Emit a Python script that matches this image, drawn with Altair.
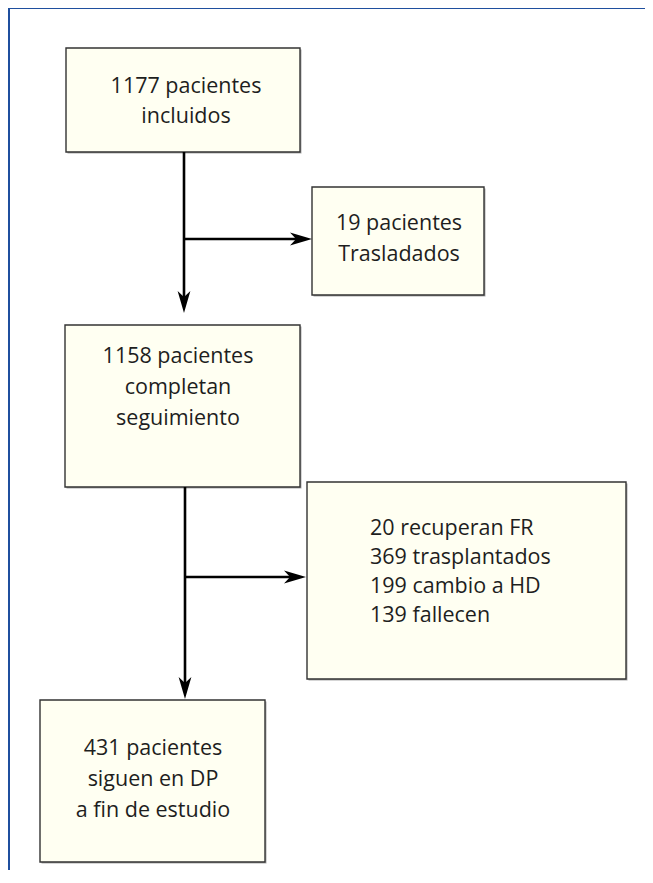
import altair as alt
import pandas as pd

# ---- content ----
box_lines = [
    ["1177 pacientes", "incluidos"],
    ["19 pacientes", "Trasladados"],
    ["1158 pacientes", "completan", "seguimiento"],
    ["20 recuperan FR", "369 trasplantados", "199 cambio a HD", "139 fallecen"],
    ["431 pacientes", "siguen en DP", "a fin de estudio"],
]
box_align = ["center", "center", "center", "left", "center"]

# ---- layout (page pixel coordinates) ----
box_left = [66, 312, 65, 307, 40]
box_right = [300, 484, 300, 626, 265]
box_top = [48, 187, 325, 482, 700]
box_bottom = [152, 295, 487, 679, 862]
text_x = [186, 399, 178, 370, 153]
text_first_baseline = [93, 230, 363, 535, 755]
line_step = [30, 31, 31, 29, 31]

# arrows: (x1, y1) -> tip (x2, y2)
arrow_x1 = [184, 184, 185, 185]
arrow_y1 = [152, 239, 487, 577]
arrow_x2 = [184, 312, 185, 306]
arrow_y2 = [313, 239, 699, 577]
arrow_dir = ["down", "right", "down", "right"]

W, H = 637, 862
X0, Y0 = 8, 8
xs = alt.Scale(domain=[X0, X0 + W], nice=False, zero=False)
ys = alt.Scale(domain=[Y0, Y0 + H], nice=False, zero=False, reverse=True)
noax = None

boxes = pd.DataFrame({"l": box_left, "r": box_right, "t": box_top, "b": box_bottom})
boxes["sl"] = boxes["l"] + 1.5
boxes["sr"] = boxes["r"] + 1.5
boxes["st"] = boxes["t"] + 1.5
boxes["sb"] = boxes["b"] + 1.5

rows = []
for i, lines in enumerate(box_lines):
    for j, t in enumerate(lines):
        rows.append({"txt": t, "x": text_x[i],
                     "y": text_first_baseline[i] + j * line_step[i],
                     "al": box_align[i]})
texts = pd.DataFrame(rows)

HEAD = 22
shaft = []
heads_down = []
heads_right = []
for x1, y1, x2, y2, d in zip(arrow_x1, arrow_y1, arrow_x2, arrow_y2, arrow_dir):
    if d == "down":
        shaft.append({"x": x1, "y": y1, "x2": x2, "y2": y2 - HEAD / 2})
        heads_down.append({"x": x2, "y": y2 - HEAD / 2})
    else:
        shaft.append({"x": x1, "y": y1, "x2": x2 - HEAD / 2, "y2": y2})
        heads_right.append({"x": x2 - HEAD / 2, "y": y2})
shaft = pd.DataFrame(shaft)
heads_down = pd.DataFrame(heads_down)
heads_right = pd.DataFrame(heads_right)

frame = pd.DataFrame({"x": [9, 9], "y": [8, 8], "x2": [653, 9], "y2": [8, 883]})

X = lambda f: alt.X(f, type="quantitative", scale=xs, axis=noax)
Y = lambda f: alt.Y(f, type="quantitative", scale=ys, axis=noax)

frame_l = alt.Chart(frame).mark_rule(color="#1f4f9e", strokeWidth=2, clip=True).encode(
    x=X("x"), y=Y("y"), x2="x2", y2="y2")

shadow_l = alt.Chart(boxes).mark_rect(fill="#8a8a8a", opacity=0.7).encode(
    x=X("sl"), x2="sr", y=Y("st"), y2="sb")

box_l = alt.Chart(boxes).mark_rect(fill="#fffff2", stroke="#333333", strokeWidth=1.4).encode(
    x=X("l"), x2="r", y=Y("t"), y2="b")

shaft_l = alt.Chart(shaft).mark_rule(color="#000000", strokeWidth=2.6).encode(
    x=X("x"), y=Y("y"), x2="x2", y2="y2")

down_path = "M0,1 L-0.58,-1 L0,-0.45 L0.58,-1 Z"
right_path = "M1,0 L-1,-0.58 L-0.45,0 L-1,0.58 Z"
hd_l = alt.Chart(heads_down).mark_point(shape=down_path, filled=True, size=HEAD * HEAD,
                                        color="#000000", opacity=1, strokeWidth=0).encode(
    x=X("x"), y=Y("y"))
hr_l = alt.Chart(heads_right).mark_point(shape=right_path, filled=True, size=HEAD * HEAD,
                                         color="#000000", opacity=1, strokeWidth=0).encode(
    x=X("x"), y=Y("y"))

FS = 21.5
txt_c = alt.Chart(texts).transform_filter(alt.datum.al == "center").mark_text(
    font="Open Sans", fontSize=FS, color="#1e1e1e", align="center", baseline="alphabetic").encode(
    x=X("x"), y=Y("y"), text="txt:N")
txt_l = alt.Chart(texts).transform_filter(alt.datum.al == "left").mark_text(
    font="Open Sans", fontSize=FS, color="#1e1e1e", align="left", baseline="alphabetic").encode(
    x=X("x"), y=Y("y"), text="txt:N")

chart = alt.layer(frame_l, shadow_l, box_l, shaft_l, hd_l, hr_l, txt_c, txt_l).properties(
    width=W, height=H, padding=0, autosize=alt.AutoSizeParams(type="none"),
    background="#ffffff"
).configure_view(stroke=None)

chart.save("out.html", embed_options={"renderer": "svg", "actions": False})
